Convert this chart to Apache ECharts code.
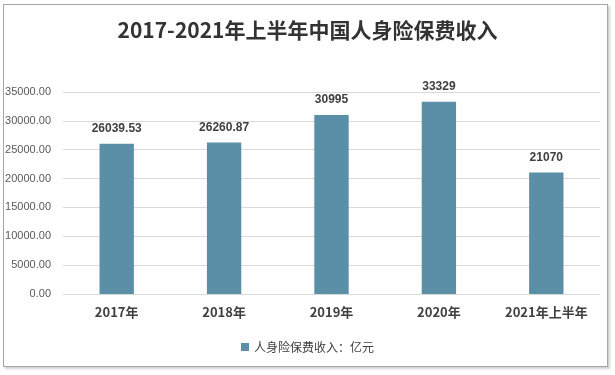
<!DOCTYPE html>
<html><head><meta charset="utf-8">
<script src="https://cdn.jsdelivr.net/npm/echarts@6/dist/echarts.min.js"></script>
<style>
html,body{margin:0;padding:0;background:#fff;}
#frame{position:absolute;left:3px;top:4px;width:603px;height:361px;border:1px solid #a6a6a6;box-shadow:2px 2px 2px #d0d0d0;}
#c{position:absolute;left:0;top:0;width:615px;height:375px;}
</style></head>
<body>
<div id="frame"></div>
<div id="c"></div>
<script>
const categories = ['2017年','2018年','2019年','2020年','2021年上半年'];
const values = [26039.53, 26260.87, 30995, 33329, 21070];
const labels = ['26039.53','26260.87','30995','33329','21070'];
const seriesName = '人身险保费收入：亿元';
const titleText = '2017-2021年上半年中国人身险保费收入';

const chart = echarts.init(document.getElementById('c'), null, {renderer:'canvas'});
chart.setOption({
  animation:false,
  title:{text:titleText,left:'center',top:15,textStyle:{fontFamily:'Noto Sans CJK SC',fontSize:21,fontWeight:'bold',color:'#333'}},
  grid:{left:63,right:15,top:92,bottom:81,containLabel:false},
  legend:{bottom:17,left:'center',itemWidth:8,itemHeight:8,icon:'rect',
    textStyle:{fontFamily:'Noto Sans CJK SC',fontSize:12,color:'#404040'},data:[seriesName]},
  xAxis:{type:'category',data:categories,
    axisLine:{show:false},axisTick:{show:false},
    axisLabel:{interval:0,fontFamily:'Noto Sans CJK SC',fontSize:13,fontWeight:'bold',color:'#404040',margin:12}},
  yAxis:{type:'value',min:0,max:35000,interval:5000,
    axisLine:{show:false},axisTick:{show:false},
    splitLine:{lineStyle:{color:'#d9d9d9'}},
    axisLabel:{fontFamily:'Liberation Sans',fontSize:11,color:'#595959',margin:12,formatter:v=>v.toFixed(2)}},
  series:[{name:seriesName,type:'bar',data:values,barWidth:'32%',
    itemStyle:{color:'#5b8fa8'},
    label:{show:true,position:'top',distance:9,fontFamily:'Liberation Sans',fontSize:12,fontWeight:'bold',color:'#404040',
      formatter:p=>labels[p.dataIndex]}}]
});
</script>
</body></html>
